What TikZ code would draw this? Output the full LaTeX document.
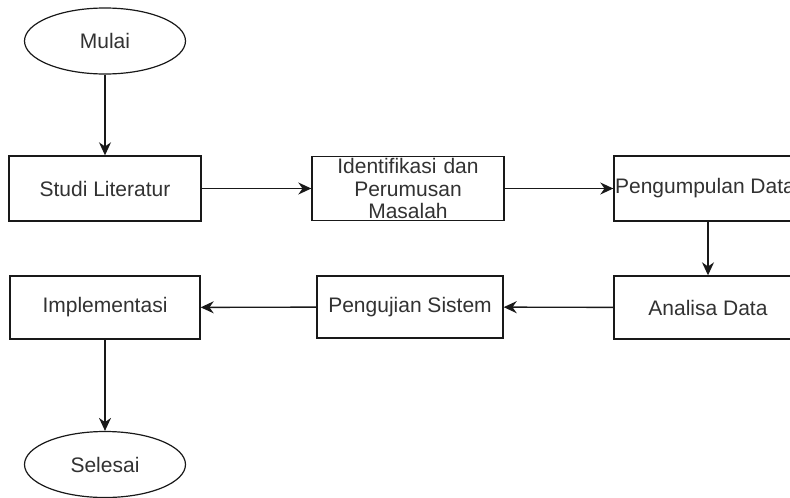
\documentclass[tikz,border=0pt]{standalone}
\usepackage{fontspec}
\setmainfont{Liberation Sans}
\usetikzlibrary{arrows.meta,shapes.geometric}
\definecolor{txt}{RGB}{50,50,50}
\definecolor{ln}{RGB}{25,25,25}
\begin{document}
\begin{tikzpicture}[x=1pt,y=-1pt,
  every node/.style={font=\fontsize{21}{22.5}\selectfont, text=txt, inner sep=0pt},
  procbox/.style={draw=ln, line width=1.4pt, rectangle, minimum height=64pt, align=center, fill=white},
  term/.style={draw=ln, line width=1.2pt, ellipse, minimum width=161pt, minimum height=66pt},
  conn/.style={draw=ln, line width=1.4pt, -{Stealth[length=13pt,width=12pt]}}]
\useasboundingbox (0,0) rectangle (790,498);
\fill[white] (0,0) rectangle (790,498);
\node[term] (mulai) at (105,41) {Mulai};
\node[procbox, minimum width=192pt, minimum height=65pt] (studi) at (105,188.5) {Studi Literatur};
\node[procbox, minimum width=192pt, text width=192pt] (ident) at (408,188.5) {Identifikasi dan\\Perumusan\\Masalah};
\node[procbox, minimum width=188pt, minimum height=65pt] (kumpul) at (708,188.5) {\makebox[0pt]{\hspace*{-6pt}Pengumpulan Data}};
\node[procbox, minimum width=188pt, minimum height=63pt] (analisa) at (708,307.5) {Analisa Data};
\node[procbox, minimum width=186pt, minimum height=62pt] (uji) at (410,307) {Pengujian Sistem};
\node[procbox, minimum width=190pt, minimum height=63pt] (impl) at (105,307.5) {Implementasi};
\node[term] (selesai) at (105,464.5) {Selesai};
\draw[conn] (mulai) -- (studi);
\draw[conn] (studi) -- (ident);
\draw[conn] (ident) -- (kumpul);
\draw[conn] (kumpul) -- (analisa);
\draw[conn] (analisa) -- (uji);
\draw[conn] (uji) -- (impl);
\draw[conn] (impl) -- (selesai);
\end{tikzpicture}
\end{document}
